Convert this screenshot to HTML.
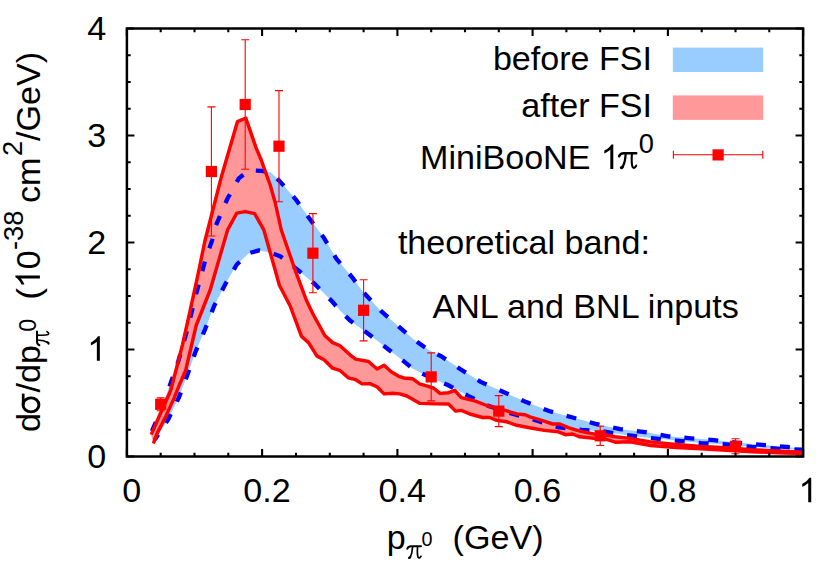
<!DOCTYPE html>
<html><head><meta charset="utf-8"><title>plot</title>
<style>
html,body{margin:0;padding:0;background:#fff;}
body{width:830px;height:563px;overflow:hidden;}
svg{display:block;}
text{font-family:"Liberation Sans",sans-serif;fill:#000;}
.sy{font-family:"Liberation Serif",serif;}
</style></head><body>
<svg width="830" height="563" viewBox="0 0 830 563">
<rect x="0" y="0" width="830" height="563" fill="#ffffff"/>
<polygon points="151.5,432.3 160.0,412.0 170.0,385.0 178.1,361.9 186.9,331.2 197.0,290.7 205.9,257.8 212.2,240.1 216.0,225.3 227.4,198.7 238.8,178.4 248.9,170.3 261.6,170.9 270.6,172.2 279.8,181.3 295.5,199.1 308.9,217.8 323.9,237.8 336.3,258.6 352.2,277.3 362.9,291.8 380.6,310.7 391.2,320.0 412.5,338.5 429.5,350.5 441.3,356.3 460.5,369.2 480.7,381.9 503.5,392.0 526.3,402.1 549.0,411.0 571.8,417.3 594.6,423.6 620.2,429.2 643.0,431.8 668.3,436.3 688.6,438.1 713.9,440.1 736.6,442.6 761.9,444.8 787.2,447.0 802.4,448.9 802.4,449.7 777.1,448.7 751.8,446.9 726.5,444.4 701.2,443.1 675.9,440.6 650.6,438.0 625.3,435.0 602.2,431.2 581.9,430.0 559.2,427.4 533.9,419.8 511.1,413.5 488.3,405.9 468.1,395.8 447.8,385.0 432.7,378.6 423.2,374.0 412.5,368.5 405.4,362.6 386.2,347.7 367.8,333.5 350.0,320.5 339.5,310.0 331.7,301.0 314.7,284.0 298.4,270.5 280.6,256.5 270.4,252.5 259.0,250.4 248.9,253.2 236.8,264.5 225.9,283.1 214.0,306.3 205.2,329.1 195.5,351.8 187.6,374.3 179.1,397.0 168.4,419.0 154.9,439.6" fill="#99ccff"/>
<polygon points="151.2,434.6 161.3,411.5 170.6,390.8 176.4,368.5 182.5,344.6 189.5,313.5 198.3,273.0 204.9,241.0 221.6,175.9 237.5,121.5 245.9,118.2 256.2,148.1 261.2,160.0 270.2,185.0 275.3,203.0 281.3,230.0 295.5,271.2 306.3,300.0 312.7,313.5 324.8,335.5 332.6,342.6 339.7,345.5 350.0,354.8 355.7,359.1 368.5,361.5 377.0,369.0 384.1,365.2 391.2,371.8 398.3,376.1 404.0,378.0 412.5,378.7 419.6,383.9 427.4,386.1 433.8,388.2 440.0,393.4 448.5,392.7 454.9,390.5 461.3,397.6 475.5,401.2 486.9,405.5 496.8,408.3 505.3,410.4 516.7,414.0 525.2,414.7 530.0,416.9 544.2,421.2 552.7,424.0 559.8,424.0 568.4,427.6 579.7,431.1 593.9,434.0 605.3,434.7 615.2,436.8 630.0,438.4 650.6,441.9 675.9,444.4 701.2,446.4 726.5,447.6 751.8,449.7 777.1,451.0 802.4,452.3 802.4,453.6 777.1,452.7 751.8,451.7 726.5,450.3 701.2,448.8 675.9,447.5 650.6,445.5 630.0,441.8 615.2,442.2 605.3,438.9 593.9,438.2 579.7,436.8 572.6,434.0 565.5,434.7 558.4,431.8 544.2,430.4 528.1,427.5 516.7,425.3 506.8,421.8 496.8,420.4 489.7,417.5 482.6,417.5 469.8,414.0 461.3,410.4 455.6,411.1 448.5,404.0 435.2,403.9 420.0,403.4 413.9,400.0 406.8,396.0 399.7,393.9 392.6,393.2 384.1,393.9 377.0,386.8 369.9,383.6 362.1,383.9 355.7,379.7 348.2,377.8 339.7,370.3 332.6,368.2 324.1,359.7 317.0,356.1 308.5,342.6 301.4,336.2 290.2,306.0 279.4,285.3 273.1,262.9 263.8,229.9 254.6,213.6 245.3,211.6 236.8,213.1 227.6,229.9 210.2,290.0 196.2,325.5 185.8,370.0 179.7,384.2 174.0,398.4 165.5,416.9 156.9,433.9 153.4,443.5" fill="#ff9999"/>
<polyline points="151.5,432.3 160.0,412.0 170.0,385.0 178.1,361.9 186.9,331.2 197.0,290.7 205.9,257.8 212.2,240.1 216.0,225.3 227.4,198.7 238.8,178.4 248.9,170.3 261.6,170.9 270.6,172.2 279.8,181.3 295.5,199.1 308.9,217.8 323.9,237.8 336.3,258.6 352.2,277.3 362.9,291.8 380.6,310.7 391.2,320.0 412.5,338.5 429.5,350.5 441.3,356.3 460.5,369.2 480.7,381.9 503.5,392.0 526.3,402.1 549.0,411.0 571.8,417.3 594.6,423.6 620.2,429.2 643.0,431.8 668.3,436.3 688.6,438.1 713.9,440.1 736.6,442.6 761.9,444.8 787.2,447.0 802.4,448.9" fill="none" stroke="#0000ff" stroke-width="4.3" stroke-dasharray="10 14" stroke-dashoffset="-1.2" stroke-linejoin="round"/>
<polyline points="154.9,439.6 168.4,419.0 179.1,397.0 187.6,374.3 195.5,351.8 205.2,329.1 214.0,306.3 225.9,283.1 236.8,264.5 248.9,253.2 259.0,250.4 270.4,252.5 280.6,256.5 298.4,270.5 314.7,284.0 331.7,301.0 339.5,310.0 350.0,320.5 367.8,333.5 386.2,347.7 405.4,362.6 412.5,368.5 423.2,374.0 432.7,378.6 447.8,385.0 468.1,395.8 488.3,405.9 511.1,413.5 533.9,419.8 559.2,427.4 581.9,430.0 602.2,431.2 625.3,435.0 650.6,438.0 675.9,440.6 701.2,443.1 726.5,444.4 751.8,446.9 777.1,448.7 802.4,449.7" fill="none" stroke="#0000ff" stroke-width="4.3" stroke-dasharray="10 14" stroke-dashoffset="4" stroke-linejoin="round"/>
<polyline points="151.2,434.6 161.3,411.5 170.6,390.8 176.4,368.5 182.5,344.6 189.5,313.5 198.3,273.0 204.9,241.0 221.6,175.9 237.5,121.5 245.9,118.2 256.2,148.1 261.2,160.0 270.2,185.0 275.3,203.0 281.3,230.0 295.5,271.2 306.3,300.0 312.7,313.5 324.8,335.5 332.6,342.6 339.7,345.5 350.0,354.8 355.7,359.1 368.5,361.5 377.0,369.0 384.1,365.2 391.2,371.8 398.3,376.1 404.0,378.0 412.5,378.7 419.6,383.9 427.4,386.1 433.8,388.2 440.0,393.4 448.5,392.7 454.9,390.5 461.3,397.6 475.5,401.2 486.9,405.5 496.8,408.3 505.3,410.4 516.7,414.0 525.2,414.7 530.0,416.9 544.2,421.2 552.7,424.0 559.8,424.0 568.4,427.6 579.7,431.1 593.9,434.0 605.3,434.7 615.2,436.8 630.0,438.4 650.6,441.9 675.9,444.4 701.2,446.4 726.5,447.6 751.8,449.7 777.1,451.0 802.4,452.3" fill="none" stroke="#ff0000" stroke-width="3.45" stroke-linejoin="round"/>
<polyline points="153.4,443.5 156.9,433.9 165.5,416.9 174.0,398.4 179.7,384.2 185.8,370.0 196.2,325.5 210.2,290.0 227.6,229.9 236.8,213.1 245.3,211.6 254.6,213.6 263.8,229.9 273.1,262.9 279.4,285.3 290.2,306.0 301.4,336.2 308.5,342.6 317.0,356.1 324.1,359.7 332.6,368.2 339.7,370.3 348.2,377.8 355.7,379.7 362.1,383.9 369.9,383.6 377.0,386.8 384.1,393.9 392.6,393.2 399.7,393.9 406.8,396.0 413.9,400.0 420.0,403.4 435.2,403.9 448.5,404.0 455.6,411.1 461.3,410.4 469.8,414.0 482.6,417.5 489.7,417.5 496.8,420.4 506.8,421.8 516.7,425.3 528.1,427.5 544.2,430.4 558.4,431.8 565.5,434.7 572.6,434.0 579.7,436.8 593.9,438.2 605.3,438.9 615.2,442.2 630.0,441.8 650.6,445.5 675.9,447.5 701.2,448.8 726.5,450.3 751.8,451.7 777.1,452.7 802.4,453.6" fill="none" stroke="#ff0000" stroke-width="3.45" stroke-linejoin="round"/>
<g stroke="#ff0000" stroke-width="1.1" fill="#ff0000">
<path d="M160.7 397.9V410.7M156.7 397.9h8M156.7 410.7h8" fill="none"/>
<rect x="155.1" y="398.7" width="11.2" height="11.2" stroke="none"/>
<path d="M211.4 106.9V236.0M207.4 106.9h8M207.4 236.0h8" fill="none"/>
<rect x="205.8" y="165.9" width="11.2" height="11.2" stroke="none"/>
<path d="M245.2 39.7V169.2M241.2 39.7h8M241.2 169.2h8" fill="none"/>
<rect x="239.6" y="98.9" width="11.2" height="11.2" stroke="none"/>
<path d="M279.0 90.6V201.8M275.0 90.6h8M275.0 201.8h8" fill="none"/>
<rect x="273.4" y="140.6" width="11.2" height="11.2" stroke="none"/>
<path d="M312.9 213.6V292.8M308.9 213.6h8M308.9 292.8h8" fill="none"/>
<rect x="307.3" y="247.6" width="11.2" height="11.2" stroke="none"/>
<path d="M363.6 279.7V340.9M359.6 279.7h8M359.6 340.9h8" fill="none"/>
<rect x="358.0" y="304.7" width="11.2" height="11.2" stroke="none"/>
<path d="M431.2 352.9V400.9M427.2 352.9h8M427.2 400.9h8" fill="none"/>
<rect x="425.6" y="371.3" width="11.2" height="11.2" stroke="none"/>
<path d="M498.8 395.6V426.6M494.8 395.6h8M494.8 426.6h8" fill="none"/>
<rect x="493.2" y="405.5" width="11.2" height="11.2" stroke="none"/>
<path d="M600.2 426.2V445.5M596.2 426.2h8M596.2 445.5h8" fill="none"/>
<rect x="594.6" y="430.2" width="11.2" height="11.2" stroke="none"/>
<path d="M735.5 438.8V453.8M731.5 438.8h8M731.5 453.8h8" fill="none"/>
<rect x="729.9" y="440.7" width="11.2" height="11.2" stroke="none"/>
</g>
<rect x="672.8" y="47.6" width="90.4" height="24.4" fill="#99ccff"/>
<rect x="672.8" y="95.4" width="90.4" height="24.5" fill="#ff9999"/>
<g stroke="#ff0000" stroke-width="1.1" fill="#ff0000"><path d="M673.4 154.8H762.8M673.4 150.8v8M762.8 150.8v8" fill="none"/><rect x="712.5" y="149.3" width="11.2" height="11.2" stroke="none"/></g>
<g stroke="#000" stroke-width="2.5" fill="none">
<rect x="126.9" y="28.5" width="676.2" height="428.0"/>
</g><g stroke="#000" stroke-width="2.1" fill="none">
<path d="M126.9 456.5v-7.5M126.9 28.5v7.5M160.7 456.5v-3.8M160.7 28.5v3.8M194.5 456.5v-3.8M194.5 28.5v3.8M228.3 456.5v-3.8M228.3 28.5v3.8M262.1 456.5v-7.5M262.1 28.5v7.5M296.0 456.5v-3.8M296.0 28.5v3.8M329.8 456.5v-3.8M329.8 28.5v3.8M363.6 456.5v-3.8M363.6 28.5v3.8M397.4 456.5v-7.5M397.4 28.5v7.5M431.2 456.5v-3.8M431.2 28.5v3.8M465.0 456.5v-3.8M465.0 28.5v3.8M498.8 456.5v-3.8M498.8 28.5v3.8M532.6 456.5v-7.5M532.6 28.5v7.5M566.4 456.5v-3.8M566.4 28.5v3.8M600.2 456.5v-3.8M600.2 28.5v3.8M634.1 456.5v-3.8M634.1 28.5v3.8M667.9 456.5v-7.5M667.9 28.5v7.5M701.7 456.5v-3.8M701.7 28.5v3.8M735.5 456.5v-3.8M735.5 28.5v3.8M769.3 456.5v-3.8M769.3 28.5v3.8M803.1 456.5v-7.5M803.1 28.5v7.5M126.9 456.5h7.5M803.1 456.5h-7.5M126.9 429.8h3.8M803.1 429.8h-3.8M126.9 403.0h3.8M803.1 403.0h-3.8M126.9 376.2h3.8M803.1 376.2h-3.8M126.9 349.5h7.5M803.1 349.5h-7.5M126.9 322.8h3.8M803.1 322.8h-3.8M126.9 296.0h3.8M803.1 296.0h-3.8M126.9 269.2h3.8M803.1 269.2h-3.8M126.9 242.5h7.5M803.1 242.5h-7.5M126.9 215.8h3.8M803.1 215.8h-3.8M126.9 189.0h3.8M803.1 189.0h-3.8M126.9 162.2h3.8M803.1 162.2h-3.8M126.9 135.5h7.5M803.1 135.5h-7.5M126.9 108.8h3.8M803.1 108.8h-3.8M126.9 82.0h3.8M803.1 82.0h-3.8M126.9 55.2h3.8M803.1 55.2h-3.8M126.9 28.5h7.5M803.1 28.5h-7.5"/>
</g>
<g font-size="34.1">
<text x="131.8" y="502.2" text-anchor="middle">0</text>
<text x="267.0" y="502.2" text-anchor="middle">0.2</text>
<text x="402.3" y="502.2" text-anchor="middle">0.4</text>
<text x="537.5" y="502.2" text-anchor="middle">0.6</text>
<text x="672.8" y="502.2" text-anchor="middle">0.8</text>
<path d="M811.23 502.20L808.23 502.20L808.23 483.10Q807.14 484.13 805.39 485.17Q803.63 486.20 802.23 486.72L802.23 483.82Q804.75 482.64 806.63 480.96Q808.51 479.27 809.29 477.69L811.23 477.69Z" fill="#000" stroke="none" />
<text x="106.1" y="467.8" text-anchor="end">0</text>
<text x="106.1" y="253.8" text-anchor="end">2</text>
<text x="106.1" y="146.8" text-anchor="end">3</text>
<text x="106.1" y="39.8" text-anchor="end">4</text>
<path d="M99.85 360.80L96.85 360.80L96.85 341.70Q95.76 342.73 94.01 343.77Q92.25 344.80 90.85 345.32L90.85 342.42Q93.37 341.24 95.25 339.56Q97.13 337.87 97.91 336.29L99.85 336.29Z" fill="#000" stroke="none" />
<text x="652" y="70.4" text-anchor="end">before FSI</text>
<text x="652" y="117.4" text-anchor="end">after FSI</text>
<text x="420" y="168.9">MiniBooNE</text>
<path d="M613.31 168.90L610.31 168.90L610.31 149.80Q609.22 150.83 607.47 151.87Q605.71 152.90 604.31 153.42L604.31 150.52Q606.83 149.34 608.71 147.66Q610.59 145.97 611.37 144.39L613.31 144.39Z" fill="#000" stroke="none" />
<g transform="translate(618.20,168.90) scale(1.000)" fill="none" stroke="#000" stroke-linecap="round" stroke-linejoin="round" ><path d="M0.9,-12.6 Q2.0,-15.6 5.6,-15.6 L18.0,-15.6" stroke-width="2.5"/><path d="M7.5,-15 Q7.2,-7 4.2,-1.3" stroke-width="2.1"/><path d="M4.6,-2.6 Q3.6,-0.6 2.9,-1.2" stroke-width="2.6"/><path d="M13.7,-15 Q13.0,-5 14.4,-1.9 Q15.9,0.3 18.0,-3.2" stroke-width="2.1"/></g>
<text x="638.8" y="152.9" font-size="27.3">0</text>
<text x="397.9" y="254">theoretical band:</text>
<text x="432.5" y="317.8">ANL and BNL inputs</text>
<text x="386.8" y="549.2">p</text>
<g transform="translate(406.60,558.80) scale(0.800)" fill="none" stroke="#000" stroke-linecap="round" stroke-linejoin="round" ><path d="M0.9,-12.6 Q2.0,-15.6 5.6,-15.6 L18.0,-15.6" stroke-width="2.5"/><path d="M7.5,-15 Q7.2,-7 4.2,-1.3" stroke-width="2.1"/><path d="M4.6,-2.6 Q3.6,-0.6 2.9,-1.2" stroke-width="2.6"/><path d="M13.7,-15 Q13.0,-5 14.4,-1.9 Q15.9,0.3 18.0,-3.2" stroke-width="2.1"/></g>
<text x="421.6" y="545.9" font-size="19.8">0</text>
<text x="452.6" y="549.2">(GeV)</text>
<g transform="translate(39.9,432) rotate(-90)">
<text x="0" y="0">d</text>
<g fill="none" stroke="#000" stroke-width="2.9"><ellipse cx="27.1" cy="-8.9" rx="7.0" ry="7.9"/><path d="M27.1,-16.7 L38.4,-16.7" stroke-width="2.7" stroke-linecap="butt"/></g>
<text x="39.6" y="0">/dp</text>
<g transform="translate(86.00,9.60) scale(0.800)" fill="none" stroke="#000" stroke-linecap="round" stroke-linejoin="round" ><path d="M0.9,-12.6 Q2.0,-15.6 5.6,-15.6 L18.0,-15.6" stroke-width="2.5"/><path d="M7.5,-15 Q7.2,-7 4.2,-1.3" stroke-width="2.1"/><path d="M4.6,-2.6 Q3.6,-0.6 2.9,-1.2" stroke-width="2.6"/><path d="M13.7,-15 Q13.0,-5 14.4,-1.9 Q15.9,0.3 18.0,-3.2" stroke-width="2.1"/></g>
<text x="100.2" y="-3.8" font-size="23.2">0</text>
<text x="132.5" y="0">(</text>
<path d="M156.56 0.00L153.56 0.00L153.56 -19.10Q152.48 -18.07 150.72 -17.03Q148.97 -16.00 147.57 -15.48L147.57 -18.38Q150.08 -19.56 151.96 -21.24Q153.85 -22.93 154.63 -24.51L156.56 -24.51Z" fill="#000" stroke="none" />
<text x="162.81" y="0">0</text>
<text x="182" y="-17" font-size="27.3">-38</text>
<text x="229" y="0">cm</text>
<text x="276" y="-17.5" font-size="27.3">2</text>
<text x="291" y="0">/GeV)</text>
</g>
</g>
</svg></body></html>
